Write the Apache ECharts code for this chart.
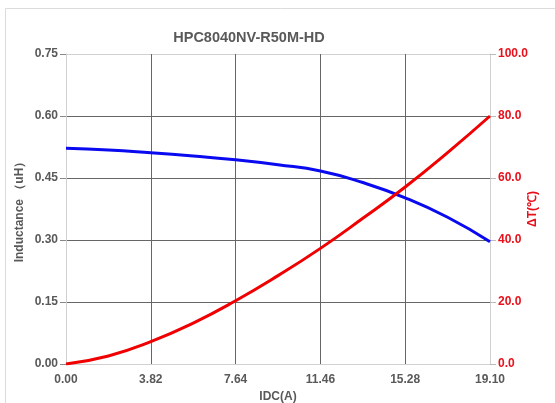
<!DOCTYPE html>
<html>
<head>
<meta charset="utf-8">
<script src="https://cdn.jsdelivr.net/npm/echarts@6/dist/echarts.min.js"></script>
<style>
  html, body { margin: 0; padding: 0; background: #fff; }
  #chart { width: 555px; height: 403px; }
</style>
</head>
<body>
<div id="chart"></div>
<script>
// IDC (A) sample points
var idc = [0, 1.91, 3.82, 5.73, 7.64, 9.55, 11.46, 13.37, 15.28, 17.19, 19.10];
// inductance (uH)
var inductance = [0.522, 0.518, 0.511, 0.503, 0.494, 0.482, 0.467, 0.439, 0.402, 0.355, 0.296];
// temperature rise (°C)
var deltaT = [0, 2.6, 7.2, 13.2, 20.4, 28.5, 37.3, 47.0, 57.1, 68.2, 80];

var chart = echarts.init(document.getElementById('chart'));

function pairs(xs, ys) {
    return xs.map(function (x, i) { return [x, ys[i]]; });
}

var gridLine = ['#d0d0d0', '#666', '#666', '#666', '#666', '#d0d0d0'];
var font = 'Arial, "Liberation Sans", sans-serif';

chart.setOption({
    animation: false,
    textStyle: { fontFamily: font },
    title: {
        text: 'HPC8040NV-R50M-HD',
        left: 244,
        top: 25,
        textAlign: 'center',
        textStyle: { fontSize: 14.5, fontWeight: 'bold', color: '#595959', fontFamily: font }
    },
    graphic: [{
        type: 'rect',
        shape: { x: 5.5, y: 8.5, width: 600, height: 500 },
        style: { fill: 'none', stroke: '#dcdcdc', lineWidth: 1 },
        silent: true
    }],
    grid: { left: 66, right: 65, top: 54, bottom: 39, outerBoundsMode: 'none' },
    xAxis: {
        type: 'value',
        min: 0,
        max: 19.1,
        interval: 3.82,
        name: 'IDC(A)',
        nameLocation: 'middle',
        nameGap: 27,
        nameMoveOverlap: false,
        nameTextStyle: { fontSize: 12, fontWeight: 'bold', color: '#595959' },
        axisLine: { show: true, lineStyle: { color: '#d0d0d0' } },
        axisTick: { show: false },
        axisLabel: {
            margin: 10,
            fontSize: 12, fontWeight: 'bold', color: '#595959',
            formatter: function (v) { return v.toFixed(2); }
        },
        splitLine: { show: true, lineStyle: { color: gridLine, width: 1 } }
    },
    yAxis: [{
        type: 'value',
        min: 0,
        max: 0.75,
        interval: 0.15,
        position: 'left',
        name: 'Inductance （uH）',
        nameLocation: 'middle',
        nameGap: 40,
        nameMoveOverlap: false,
        nameTextStyle: { fontSize: 12, fontWeight: 'bold', color: '#595959' },
        axisLine: { show: true, lineStyle: { color: '#d0d0d0' } },
        axisTick: { show: true, length: 6, lineStyle: { color: '#888' } },
        axisLabel: {
            margin: 8,
            fontSize: 12, fontWeight: 'bold', color: '#595959',
            formatter: function (v) { return v.toFixed(2); }
        },
        splitLine: { show: true, lineStyle: { color: gridLine, width: 1 } }
    }, {
        type: 'value',
        min: 0,
        max: 100,
        interval: 20,
        position: 'right',
        name: 'ΔT(℃)',
        nameLocation: 'middle',
        nameGap: 37,
        nameMoveOverlap: false,
        nameTextStyle: { fontSize: 12, fontWeight: 'bold', color: '#e8101a' },
        axisLine: { show: true, lineStyle: { color: '#d0d0d0' } },
        axisTick: { show: true, length: 6, lineStyle: { color: '#bbb' } },
        axisLabel: {
            margin: 8,
            fontSize: 12, fontWeight: 'bold', color: '#e8101a',
            formatter: function (v) { return v.toFixed(1); }
        },
        splitLine: { show: false }
    }],
    series: [{
        name: 'Inductance',
        type: 'line',
        yAxisIndex: 0,
        smooth: true,
        symbol: 'none',
        lineStyle: { color: '#0a0af0', width: 3 },
        data: pairs(idc, inductance)
    }, {
        name: 'ΔT',
        type: 'line',
        yAxisIndex: 1,
        smooth: true,
        symbol: 'none',
        lineStyle: { color: '#f00000', width: 3 },
        data: pairs(idc, deltaT)
    }]
});
</script>
</body>
</html>
